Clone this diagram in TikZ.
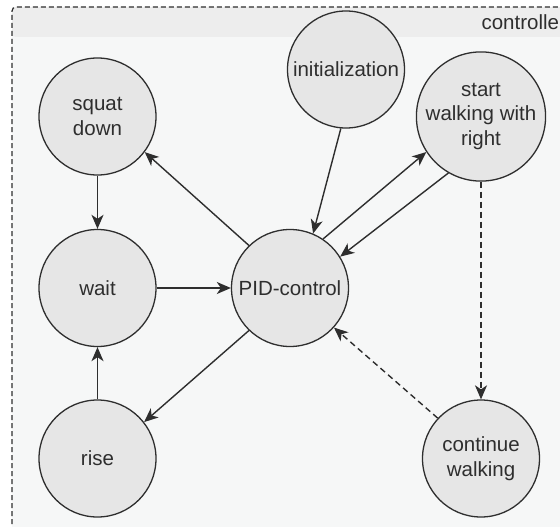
\documentclass[tikz,border=0pt]{standalone}
\usepackage{fontspec}
\setmainfont{Liberation Sans}
\usetikzlibrary{arrows.meta}
\definecolor{ink}{HTML}{2E2E2E}
\definecolor{statefill}{HTML}{E6E6E6}
\definecolor{headfill}{HTML}{EDEDED}
\definecolor{bodyfill}{HTML}{F6F7F7}
\tikzset{
  state/.style={circle, draw=ink, fill=statefill, line width=1.3pt,
    minimum size=117pt, inner sep=0pt, align=center, text=ink,
    font=\fontsize{20.5}{25}\selectfont},
  edge/.style={draw=ink, line width=1.4pt,
    -{Stealth[length=14pt,width=12pt,inset=4pt]}},
  dashedge/.style={edge, dash pattern=on 6pt off 4pt},
}
\begin{document}
\begin{tikzpicture}[x=1pt, y=-1pt]
  \useasboundingbox (0,0) rectangle (560,527);
  % container: body, header band and dashed outline
  \fill[bodyfill] (12,7) rectangle (570,540);
  \fill[headfill, rounded corners=4pt] (12,7) -- (570,7) -- (570,37) -- (12,37) -- cycle;
  \draw[ink, line width=1.2pt, dash pattern=on 5pt off 3pt, rounded corners=4pt]
    (12,540) -- (12,7) -- (570,7);
  \node[anchor=west, text=ink, font=\fontsize{20.5}{24}\selectfont] (title) at (478,22) {controller};

  % states
  \node[state] (squat) at (97.5,116.5) {squat\\down};
  \node[state] (wait)  at (97.5,288)   {wait};
  \node[state] (rise)  at (97.5,458.5) {rise};
  \node[state] (pid)   at (290,288)    {PID-control};
  \node[state] (init)  at (346,69.5)   {initialization};
  \node[state] (start) at (481,116.5)  {start\\walking with\\right};
  \node[state] (cont)  at (481,458.5)  {continue\\walking};

  % transitions
  \draw[edge] (squat) -- (wait);
  \draw[edge] (rise) -- (wait);
  \draw[edge] (wait) -- (pid);
  \draw[edge] (pid.134) -- (squat.323);
  \draw[edge] (pid.226) -- (rise.38);
  \draw[edge] (init.265) -- (pid.67);
  \draw[edge] (pid.56) -- (start.213);
  \draw[edge] (start.240) -- (pid.32);
  \draw[dashedge] (start) -- (cont);
  \draw[dashedge] (cont.137) -- (pid.318);
\end{tikzpicture}
\end{document}
